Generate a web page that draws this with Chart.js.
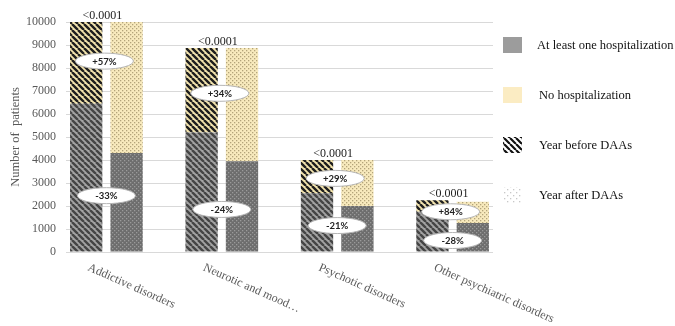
<!DOCTYPE html>
<html>
<head>
<meta charset="utf-8">
<script src="https://cdn.jsdelivr.net/npm/chart.js@4"></script>
<style>
  html, body { margin: 0; padding: 0; background: #fff; }
  canvas { display: block; }
</style>
</head>
<body>
<canvas id="chart" width="675" height="326"></canvas>
<script>
// data
const categories = ['Addictive disorders', 'Neurotic and mood…', 'Psychotic disorders', 'Other psychiatric disorders'];
const beforeHosp = [6450, 5200, 2550, 1750];
const beforeNoHosp = [3550, 3670, 1450, 500];
const afterHosp = [4300, 3950, 2000, 1260];
const afterNoHosp = [5700, 4920, 2000, 920];
const pValues = ['<0.0001', '<0.0001', '<0.0001', '<0.0001'];
const noHospChange = ['+57%', '+34%', '+29%', '+84%'];
const hospChange = ['-33%', '-24%', '-21%', '-28%'];
const noHospLabelAt = [8300, 6900, 3200, 1750];
const hospLabelAt = [2450, 1850, 1150, 500];
const yTicks = [0, 1000, 2000, 3000, 4000, 5000, 6000, 7000, 8000, 9000, 10000];
const legendLabels = ['At least one hospitalization', 'No hospitalization', 'Year before DAAs', 'Year after DAAs'];

const serif = '"Liberation Serif", "Times New Roman", serif';

// fill patterns
function stripes(bg, fg, size, lw) {
  const c = document.createElement('canvas');
  c.width = c.height = size;
  const g = c.getContext('2d');
  if (bg) { g.fillStyle = bg; g.fillRect(0, 0, size, size); }
  g.strokeStyle = fg;
  g.lineWidth = lw;
  g.beginPath();
  for (const k of [-size, 0, size]) {
    g.moveTo(k, 0);
    g.lineTo(k + size, size);
  }
  g.stroke();
  return g.createPattern(c, 'repeat');
}

function dots(bg, fg, size, r) {
  const c = document.createElement('canvas');
  c.width = c.height = size;
  const g = c.getContext('2d');
  if (bg) { g.fillStyle = bg; g.fillRect(0, 0, size, size); }
  g.fillStyle = fg;
  g.fillRect(0, 0, r, r);
  g.fillRect(size / 2, size / 2, r, r);
  return g.createPattern(c, 'repeat');
}

const patBeforeHosp = stripes('#a3a3a3', '#454545', 6, 2.4);
const patBeforeNo = stripes('#f2e3ad', '#1e1e1e', 6, 2.4);
const patAfterHosp = dots('#6d6d6d', '#9a9a9a', 4, 1.3);
const patAfterNo = dots('#f8eabd', '#b3a47a', 4, 1.3);

const legendFills = ['#9c9c9c', '#fbecc3', stripes('#ffffff', '#111111', 6, 2.2), dots('#ffffff', '#c8c8c8', 6, 1.3)];

function toPoints(arr) {
  return arr.map((v, i) => ({ x: i, y: v }));
}

// percent ellipses, p-values, slanted category labels, side legend
const extras = {
  id: 'extras',
  afterDatasetsDraw(chart) {
    const g = chart.ctx;
    const xs = chart.scales.x;
    const ys = chart.scales.y;
    const area = chart.chartArea;

    function ellipse(cx, cy, text) {
      g.save();
      g.beginPath();
      g.ellipse(cx, cy, 29, 8, 0, 0, Math.PI * 2);
      g.fillStyle = '#ffffff';
      g.fill();
      g.strokeStyle = '#b5b5b5';
      g.lineWidth = 1;
      g.stroke();
      g.fillStyle = '#222';
      g.font = 'bold 9.5px Lato, "Open Sans", sans-serif';
      g.textAlign = 'center';
      g.textBaseline = 'middle';
      g.fillText(text, cx, cy + 0.5);
      g.restore();
    }

    categories.forEach((name, i) => {
      const cx = xs.getPixelForValue(i);
      ellipse(cx - 2, ys.getPixelForValue(noHospLabelAt[i]), noHospChange[i]);
      ellipse(cx, ys.getPixelForValue(hospLabelAt[i]), hospChange[i]);

      const top = Math.max(beforeHosp[i] + beforeNoHosp[i], afterHosp[i] + afterNoHosp[i]);
      g.save();
      g.font = '12px ' + serif;
      g.fillStyle = '#222';
      g.textAlign = 'center';
      g.textBaseline = 'alphabetic';
      g.fillText(pValues[i], cx - 4, ys.getPixelForValue(top) - 3);
      g.restore();

      // slanted category label
      g.save();
      g.translate(cx - 18, area.bottom + 15);
      g.rotate(24 * Math.PI / 180);
      g.font = '12px ' + serif;
      g.fillStyle = '#595959';
      g.textAlign = 'left';
      g.textBaseline = 'middle';
      g.fillText(name, 0, 0);
      g.restore();
    });

    // legend on the right
    legendLabels.forEach((t, i) => {
      const bx = area.right + 10;
      const cy = area.top + 23 + i * 50;
      g.save();
      g.fillStyle = legendFills[i];
      g.fillRect(bx, cy - 8, 19, 16);
      g.font = '12.5px ' + serif;
      g.fillStyle = '#111';
      g.textAlign = 'left';
      g.textBaseline = 'middle';
      g.fillText(t, bx + 34 + (i > 0 ? 2 : 0), cy + 1);
      g.restore();
    });
  }
};

new Chart(document.getElementById('chart'), {
  type: 'bar',
  data: {
    datasets: [
      { label: 'Before - at least one hospitalization', data: toPoints(beforeHosp), stack: 'before', backgroundColor: patBeforeHosp },
      { label: 'Before - no hospitalization', data: toPoints(beforeNoHosp), stack: 'before', backgroundColor: patBeforeNo },
      { label: 'After - at least one hospitalization', data: toPoints(afterHosp), stack: 'after', backgroundColor: patAfterHosp },
      { label: 'After - no hospitalization', data: toPoints(afterNoHosp), stack: 'after', backgroundColor: patAfterNo }
    ]
  },
  options: {
    responsive: false,
    animation: false,
    devicePixelRatio: 1,
    categoryPercentage: 0.7,
    barPercentage: 0.8,
    layout: { padding: { left: 0, right: 182, top: 22, bottom: 74 } },
    plugins: {
      legend: { display: false },
      tooltip: { enabled: false }
    },
    scales: {
      x: {
        type: 'linear',
        display: false,
        offset: false,
        min: -0.35,
        max: 3.35,
        stacked: true,
        afterBuildTicks(scale) { scale.ticks = categories.map((c, i) => ({ value: i })); }
      },
      y: {
        stacked: true,
        min: 0,
        max: 10000,
        afterFit(scale) { scale.width = 66; },
        afterBuildTicks(scale) { scale.ticks = yTicks.map(v => ({ value: v })); },
        border: { display: false },
        grid: { color: '#d9d9d9', drawTicks: false },
        ticks: {
          padding: 10,
          color: '#595959',
          font: { family: serif, size: 12 },
          callback: v => String(v)
        },
        title: {
          display: true,
          text: 'Number of  patients',
          color: '#595959',
          padding: { top: 8, bottom: 0 },
          font: { family: serif, size: 12.5 }
        }
      }
    }
  },
  plugins: [extras]
});
</script>
</body>
</html>
